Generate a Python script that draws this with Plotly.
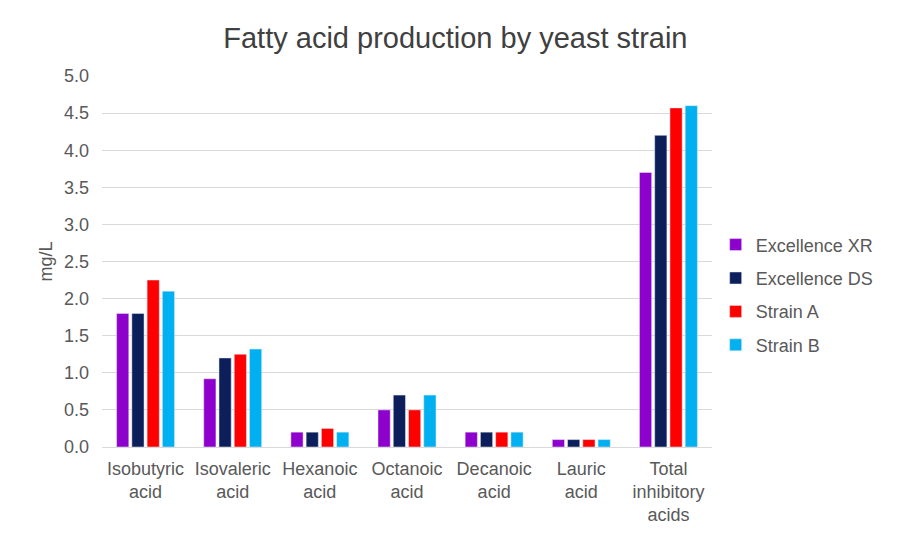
import plotly.graph_objs as go

categories = [
    "Isobutyric<br>acid",
    "Isovaleric<br>acid",
    "Hexanoic<br>acid",
    "Octanoic<br>acid",
    "Decanoic<br>acid",
    "Lauric<br>acid",
    "Total<br>inhibitory<br>acids",
]

excellence_xr = [1.8, 0.92, 0.2, 0.5, 0.2, 0.1, 3.7]
excellence_ds = [1.8, 1.2, 0.2, 0.7, 0.2, 0.1, 4.2]
strain_a = [2.25, 1.25, 0.25, 0.5, 0.2, 0.1, 4.57]
strain_b = [2.1, 1.32, 0.2, 0.7, 0.2, 0.1, 4.6]

series = [
    ("Excellence XR", excellence_xr, "#8E00CC"),
    ("Excellence DS", excellence_ds, "#0C1F5A"),
    ("Strain A", strain_a, "#FF0000"),
    ("Strain B", strain_b, "#00B0F0"),
]

fig = go.Figure()
for name, vals, color in series:
    fig.add_trace(go.Bar(x=categories, y=vals, name=name, marker_color=color, legendgroup=name))

fig.update_layout(
    width=902,
    height=538,
    paper_bgcolor="white",
    plot_bgcolor="white",
    font=dict(family="Liberation Sans, Arial, sans-serif", color="#595959", size=18),
    title=dict(
        text="Fatty acid production by yeast strain",
        x=0.496,
        xanchor="center",
        y=1 - 30 / 538,
        yanchor="middle",
        font=dict(size=29, color="#404040"),
    ),
    margin=dict(l=94, r=198, t=68, b=99),
    barmode="group",
    bargap=0.3,
    bargroupgap=0.2,
    legend=dict(
        x=1.006,
        xanchor="left",
        y=0.41,
        yanchor="middle",
        font=dict(size=18, color="#595959"),
        tracegroupgap=7,
    ),
)

fig.update_yaxes(
    range=[0, 5],
    dtick=0.5,
    tickformat=".1f",
    showgrid=True,
    gridcolor="#D9D9D9",
    zeroline=False,
    ticklabelstandoff=12,
    title=dict(text="mg/L", font=dict(size=18, color="#595959"), standoff=6),
    ticks="",
)
fig.update_xaxes(
    showline=True,
    linecolor="#D9D9D9",
    ticks="",
    tickangle=0,
    ticklabelstandoff=5,
)

fig.write_html("out.html")
